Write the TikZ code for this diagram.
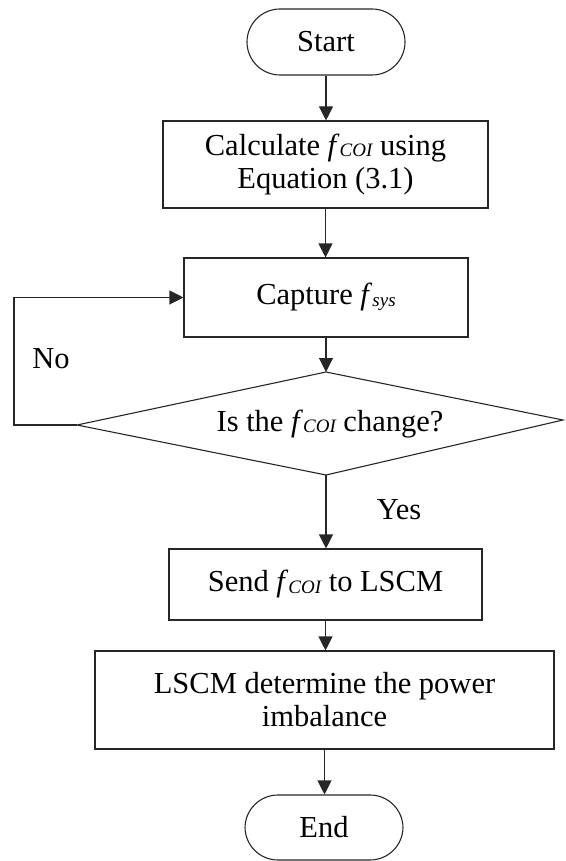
\documentclass[tikz,border=0pt]{standalone}
\usepackage{fontspec}
\setmainfont{Liberation Serif}
\usetikzlibrary{arrows.meta}
% italic f with a small italic index set close to the baseline
\newcommand{\fvar}[1]{\textit{f}\raisebox{-1.5pt}{\fontsize{19}{19}\selectfont\itshape #1}}
\begin{document}
\begin{tikzpicture}[x=1pt,y=-1pt,
  every node/.style={font=\fontsize{30.5}{33}\selectfont, inner sep=0pt},
  flowline/.style={draw=black!85, line width=1.1pt},
  arr/.style={flowline, -{Triangle[length=14pt,width=14pt]}},
  terminal/.style={flowline, rounded corners=33pt, minimum width=158pt, minimum height=66pt},
  process/.style={flowline, align=center}
]
\useasboundingbox (0,0) rectangle (565,861);

% terminals and process boxes
\node[terminal] (start) at (326,42) {Start};
\node[process, minimum width=325pt, minimum height=87pt] (calc) at (325.5,164.5)
  {Calculate \fvar{COI} using\\Equation (3.1)};
\node[process, minimum width=284pt, minimum height=79pt] (capt) at (326,297.5)
  {Capture \fvar{sys}};

% decision diamond
\coordinate (dtop) at (326,372);
\coordinate (dright) at (563,420);
\coordinate (dbot) at (326,475);
\coordinate (dleft) at (77,425);
\draw[flowline] (dtop) -- (dright) -- (dbot) -- (dleft) -- cycle;
\node (dec) at (330,424) {Is the \fvar{COI} change?};

\node[process, minimum width=313pt, minimum height=71pt] (send) at (325.5,584.5)
  {Send \fvar{COI} to LSCM};
\node[process, minimum width=459pt, minimum height=98pt] (lscm) at (324.5,700)
  {LSCM determine the power\\imbalance};
\node[terminal, minimum height=65pt] (end) at (324,827.5) {End};

% branch labels
\node (no) at (51,359) {No};
\node (yes) at (399,510) {Yes};

% connectors
\draw[arr] (start.south) -- (start.south |- calc.north);
\draw[arr] (calc.south) -- (calc.south |- capt.north);
\draw[arr] (capt.south) -- (dtop);
\draw[arr] (dbot) -- (dbot |- send.north);
\draw[arr] (send.south) -- (send.south |- lscm.north);
\draw[arr] (lscm.south) -- (lscm.south |- end.north);

% "No" loop back to the capture step
\coordinate (lc1) at (14,425);
\coordinate (lc2) at (14,297.5);
\draw[arr] (dleft) -- (lc1) -- (lc2) -- (capt.west);
\end{tikzpicture}
\end{document}
